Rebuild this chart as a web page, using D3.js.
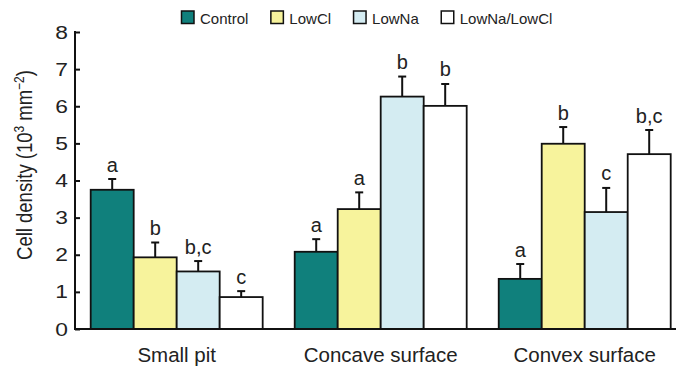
<!DOCTYPE html>
<html>
<head>
  <meta charset="utf-8">
  <title>Cell density</title>
  <script src="https://d3js.org/d3.v7.min.js"></script>
  <style>
    body { margin: 0; background: #fff; }
    svg { display: block; font-family: "Liberation Sans", Arial, sans-serif; }
    .y-axis text { font-size: 19px; fill: #222; }
    .cat-label { font-size: 20.5px; fill: #222; }
    .sig { font-size: 20px; fill: #222; }
    .legend text { font-size: 15px; fill: #222; }
  </style>
</head>
<body>
  <div id="chart"></div>
  <script>
    // Data
    const categories = ['Small pit', 'Concave surface', 'Convex surface'];
    const series = ['Control', 'LowCl', 'LowNa', 'LowNa/LowCl'];
    const colors = ['#10807c', '#f7f39c', '#d4ecf2', '#ffffff'];
    // means per series, one value per category
    const means = [
      [3.75, 2.08, 1.35],
      [1.93, 3.23, 4.99],
      [1.55, 6.26, 3.15],
      [0.86, 6.01, 4.71]
    ];
    // upper end of error bar
    const errTops = [
      [4.04, 2.42, 1.75],
      [2.33, 3.68, 5.44],
      [1.83, 6.80, 3.80],
      [1.02, 6.60, 5.36]
    ];
    const letters = [
      ['a', 'a', 'a'],
      ['b', 'a', 'b'],
      ['b,c', 'b', 'c'],
      ['c', 'b', 'b,c']
    ];
    const yTicks = [0, 1, 2, 3, 4, 5, 6, 7, 8];

    const width = 676, height = 369;
    const axisX = 75, axisRight = 676;
    const plotTop = 32, plotBottom = 329;

    const svg = d3.select('#chart').append('svg')
      .attr('width', width)
      .attr('height', height);

    const y = d3.scaleLinear().domain([0, 8]).range([plotBottom, plotTop]);

    const groupScale = d3.scaleBand()
      .domain(categories)
      .range([90.7, 670.7])
      .paddingInner(0.157)
      .paddingOuter(0);

    const barScale = d3.scaleBand()
      .domain(series)
      .range([0, groupScale.bandwidth()])
      .padding(0);

    // bars, error bars and letters
    series.forEach((s, si) => {
      categories.forEach((c, ci) => {
        const x0 = groupScale(c) + barScale(s);
        const bw = barScale.bandwidth();
        const cx = x0 + bw / 2;
        const g = svg.append('g');

        g.append('line')
          .attr('x1', cx).attr('x2', cx)
          .attr('y1', y(means[si][ci])).attr('y2', y(errTops[si][ci]))
          .attr('stroke', '#111').attr('stroke-width', 2);
        g.append('line')
          .attr('x1', cx - 4).attr('x2', cx + 4)
          .attr('y1', y(errTops[si][ci])).attr('y2', y(errTops[si][ci]))
          .attr('stroke', '#111').attr('stroke-width', 2);

        g.append('rect')
          .attr('x', x0)
          .attr('y', y(means[si][ci]))
          .attr('width', bw)
          .attr('height', y(0) - y(means[si][ci]))
          .attr('fill', colors[si])
          .attr('stroke', '#111')
          .attr('stroke-width', 1.8);

        g.append('text')
          .attr('class', 'sig')
          .attr('x', cx)
          .attr('y', y(errTops[si][ci]) - 7.5)
          .attr('text-anchor', 'middle')
          .text(letters[si][ci]);
      });
    });

    // y axis
    const yAxis = d3.axisLeft(y)
      .tickValues(yTicks)
      .tickSize(-5)
      .tickPadding(0);
    const yg = svg.append('g')
      .attr('class', 'y-axis')
      .attr('transform', `translate(${axisX},0)`)
      .call(yAxis);
    yg.select('.domain').remove();
    yg.selectAll('.tick line').attr('stroke', '#111').attr('stroke-width', 2);
    // the figure's axis numbers are a little wider than the font
    yg.selectAll('.tick text')
      .attr('font-family', null).attr('font-size', null)
      .attr('x', 0)
      .attr('transform', 'translate(-7,0) scale(1.2,1)');
    yg.append('line')
      .attr('x1', 0).attr('x2', 0)
      .attr('y1', plotTop - 1).attr('y2', plotBottom)
      .attr('stroke', '#111').attr('stroke-width', 2);

    // x axis baseline
    svg.append('line')
      .attr('x1', axisX - 1).attr('x2', axisRight)
      .attr('y1', plotBottom).attr('y2', plotBottom)
      .attr('stroke', '#111').attr('stroke-width', 2);

    // category labels
    svg.selectAll('.cat-label')
      .data(categories)
      .enter().append('text')
      .attr('class', 'cat-label')
      .attr('x', d => groupScale(d) + groupScale.bandwidth() / 2)
      .attr('y', 362)
      .attr('text-anchor', 'middle')
      .text(d => d);

    // y title
    const title = svg.append('text')
      .attr('transform', 'translate(32,165) scale(1.2,1) rotate(-90)')
      .attr('text-anchor', 'middle')
      .attr('font-size', 18.5)
      .attr('fill', '#222');
    title.append('tspan').text('Cell density (10');
    title.append('tspan').attr('dy', -7).attr('font-size', 12).text('3');
    title.append('tspan').attr('dy', 7).text(' mm');
    title.append('tspan').attr('dy', -7).attr('font-size', 12).text('\u22122');
    title.append('tspan').attr('dy', 7).text(')');

    // legend
    const legend = svg.append('g').attr('class', 'legend');
    let lx = 181;
    series.forEach((s, i) => {
      const item = legend.append('g').attr('transform', `translate(${lx},0)`);
      item.append('rect')
        .attr('x', 0.5).attr('y', 11)
        .attr('width', 12.5).attr('height', 12.5)
        .attr('fill', colors[i])
        .attr('stroke', '#111')
        .attr('stroke-width', 1.5);
      const t = item.append('text')
        .attr('x', 19).attr('y', 23.5)
        .text(s);
      lx += 19 + t.node().getComputedTextLength() + 22;
    });
  </script>
</body>
</html>
